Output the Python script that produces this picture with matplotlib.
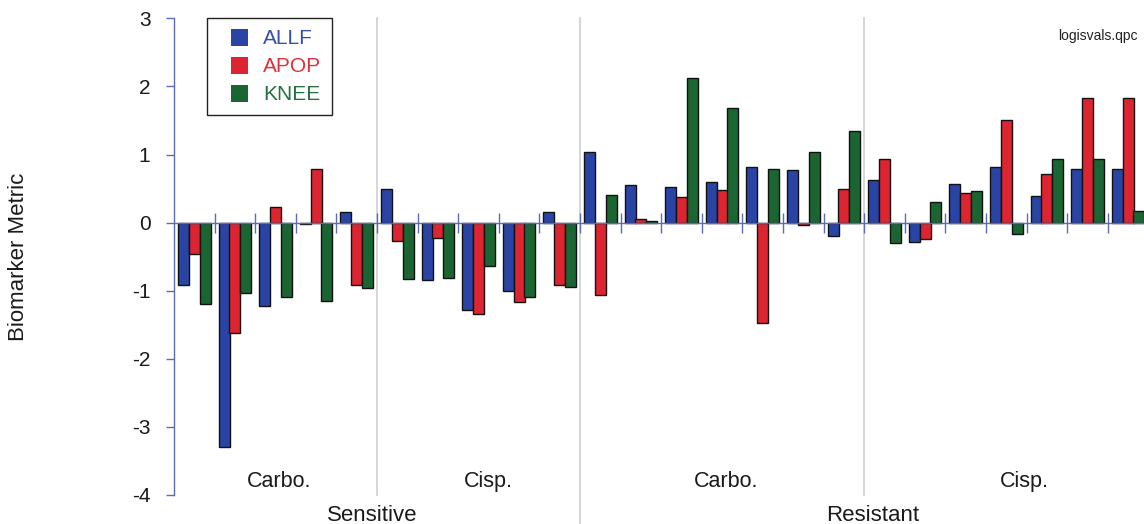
import numpy as np
import matplotlib
matplotlib.use("Agg")
import matplotlib.pyplot as plt
from matplotlib.patches import Patch, Rectangle
from matplotlib.legend_handler import HandlerPatch

plt.rcParams["font.family"] = ["Liberation Sans", "DejaVu Sans"]

# Biomarker metric per sample (24 samples, grouped by sensitivity and drug)
series_names = ["ALLF", "APOP", "KNEE"]
allf = [-0.92, -3.29, -1.23, -0.02, 0.15,
        0.50, -0.84, -1.28, -1.00, 0.15,
        1.04, 0.55, 0.53, 0.60, 0.81, 0.77, -0.19,
        0.62, -0.28, 0.56, 0.81, 0.39, 0.78, 0.78]
apop = [-0.46, -1.62, 0.23, 0.79, -0.92,
        -0.27, -0.22, -1.34, -1.17, -0.92,
        -1.07, 0.06, 0.38, 0.48, -1.47, -0.03, 0.50,
        0.94, -0.24, 0.43, 1.50, 0.72, 1.83, 1.83]
knee = [-1.20, -1.04, -1.09, -1.15, -0.96,
        -0.83, -0.81, -0.64, -1.09, -0.95,
        0.40, 0.02, 2.13, 1.69, 0.79, 1.03, 1.34,
        -0.30, 0.30, 0.47, -0.17, 0.94, 0.93, 0.17]

# Section layout: (drug label, number of samples)
drugs = ["Carbo.", "Cisp.", "Carbo.", "Cisp."]
drug_counts = [5, 5, 7, 7]
groups = ["Sensitive", "Resistant"]
yticks = [-4, -3, -2, -1, 0, 1, 2, 3]

bar_colors = ["#2a44a6", "#dc2530", "#1b6532"]
text_colors = ["#3350aa", "#e0303a", "#237040"]
axis_blue = "#5b6bb8"

W, H = 1144, 524
fig = plt.figure(figsize=(W / 100, H / 100), dpi=100)
left_px, right_px = 174, 174 + 24 * 40.6
top_px, bot_px = 18.3, 495
ax = fig.add_axes([left_px / W, 1 - bot_px / H,
                   (right_px - left_px) / W, (bot_px - top_px) / H])

n = len(allf)
x = np.arange(n) + 0.5
bw = 0.27
for k, vals in enumerate([allf, apop, knee]):
    ax.bar(x + (k - 1) * 0.266, vals, width=bw, color=bar_colors[k],
           edgecolor="#111111", linewidth=1.0, zorder=2)

ax.set_xlim(0, n)
ax.set_ylim(-4, 3)
ax.set_yticks(yticks)
ax.set_yticklabels([str(t) for t in yticks], fontsize=15, color="#1a1a1a")

# Spines: blue y axis, zero line carrying the sample separators
for s in ["top", "right"]:
    ax.spines[s].set_visible(False)
ax.spines["left"].set_color(axis_blue)
ax.spines["left"].set_linewidth(1.0)
ax.spines["bottom"].set_position(("data", 0))
ax.spines["bottom"].set_color(axis_blue)
ax.spines["bottom"].set_linewidth(1.0)
ax.spines["bottom"].set_zorder(3)
ax.set_xticks(np.arange(1, n + 1))
ax.set_xticklabels([])
ax.tick_params(axis="x", direction="inout", length=15, width=1.0,
               color=axis_blue)
ax.tick_params(axis="y", direction="out", length=6, width=1.0,
               color=axis_blue, pad=11)

# Section separators and labels
bounds = np.cumsum([0] + drug_counts)
for b in bounds[1:-1]:
    ymin = -0.065 if b == bounds[2] else 0.0
    ax.axvline(b, ymin=ymin, ymax=1.0, color="#cfcfcf", lw=1.2,
               zorder=0, clip_on=False)

drug_x = [2.6, 7.75, 13.6, 20.95]
for lbl, xc in zip(drugs, drug_x):
    ax.text(xc, 0.0174, lbl, transform=ax.get_xaxis_transform(),
            ha="center", va="baseline", fontsize=15.5, color="#1a1a1a")

group_x = [4.88, 17.2]
for lbl, xc in zip(groups, group_x):
    ax.text(xc, -0.0545, lbl, transform=ax.get_xaxis_transform(),
            ha="center", va="baseline", fontsize=16, color="#1a1a1a",
            clip_on=False)

fig.text(18.5 / W, 1 - 257 / H, "Biomarker Metric", rotation=90,
         ha="center", va="center", fontsize=16, color="#1a1a1a")
fig.text(1097.5 / W, 1 - 40 / H, "logisvals.qpc", ha="center",
         va="baseline", fontsize=10, color="#222222")


def square_patch(legend, orig_handle, xdescent, ydescent, width, height,
                 fontsize):
    # square swatch aligned to the right end of the handle box
    return Rectangle((-xdescent + width - height, -ydescent), height, height)


handles = [Patch(facecolor=c, edgecolor="none") for c in bar_colors]
leg = ax.legend(handles, series_names, loc="upper left",
                bbox_to_anchor=(207 / W, 1 - 18.3 / H),
                bbox_transform=fig.transFigure, fontsize=15,
                handler_map={Patch: HandlerPatch(patch_func=square_patch)},
                handlelength=1.47, handleheight=0.87, handletextpad=0.72,
                labelspacing=0.4, borderpad=0.5, borderaxespad=0,
                fancybox=False, framealpha=1, edgecolor="#222222")
leg.get_frame().set_linewidth(1.0)
for t, c in zip(leg.get_texts(), text_colors):
    t.set_color(c)

fig.savefig("out.png", dpi=100)
